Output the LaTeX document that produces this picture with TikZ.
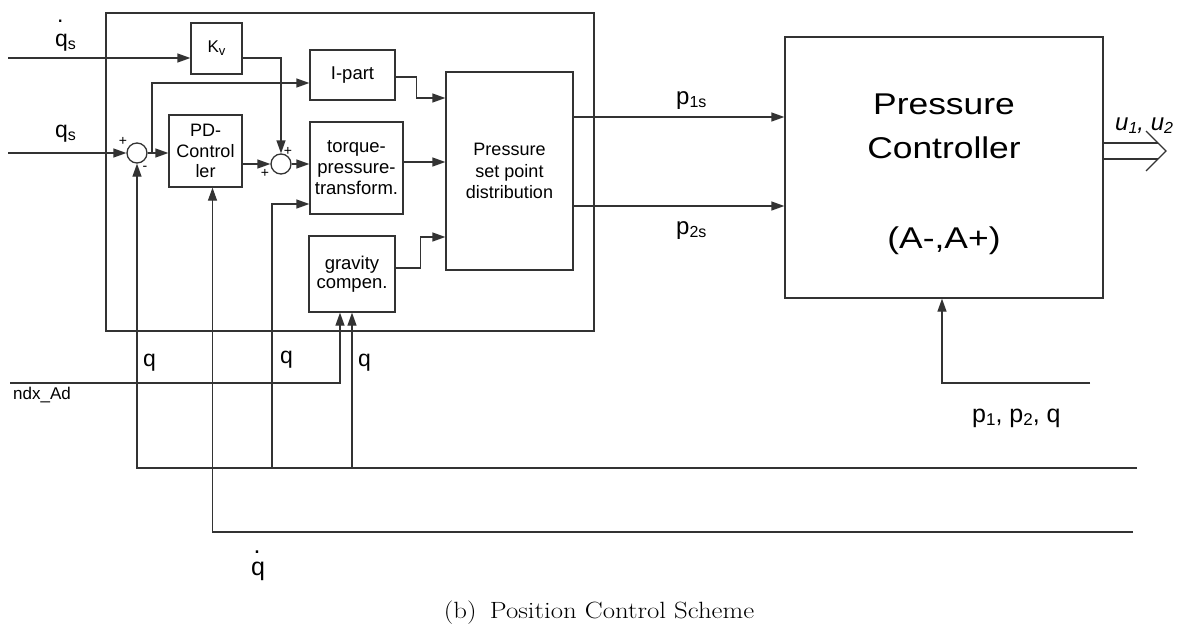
\documentclass[tikz,border=0pt]{standalone}
\usepackage{graphicx}
\usepackage{fontspec}
\setsansfont{Liberation Sans}
\newfontfamily\widesf[FakeStretch=1.18]{Liberation Sans}
\usetikzlibrary{arrows.meta}
\newcommand\fsz[2]{\fontsize{#1}{#2}\selectfont}
\newcommand\mysub[2][16]{{\fsz{#1}{#1}\raisebox{-3pt}{#2}}}
\begin{document}
\begin{tikzpicture}[x=1pt,y=-1pt,
  ln/.style={line width=1.3pt, draw=black!80},
  arr/.style={ln, -{Triangle[length=13pt,width=9pt]}},
  blk/.style={draw=black!80, line width=1.3pt, rectangle, inner sep=0pt, align=center, font=\sffamily\fsz{18.5}{21}},
  sumj/.style={draw=black!80, line width=1.3pt, circle, minimum size=20pt, inner sep=0pt},
  lbl/.style={font=\sffamily\fsz{23}{25}, inner sep=0pt, anchor=base west},
  sgn/.style={font=\sffamily\fsz{14}{14}, inner sep=0pt},
  pct/.style={font=\widesf\fsz{30}{30}, inner sep=0pt, anchor=base},
]
\useasboundingbox (0,0) rectangle (1181,627);

% blocks
\node[blk, minimum width=488pt, minimum height=318pt] (frame) at (350,172) {};
\node[blk, minimum width=51pt, minimum height=51pt, font=\sffamily\fsz{17}{17}] (Kv) at (216.5,48.5) {K\mysub[13]{v}};
\node[blk, minimum width=73pt, minimum height=72pt, font=\sffamily\fsz{18}{20.5}] (PD) at (205.5,151) {PD-\\Control\\ler};
\node[blk, minimum width=85pt, minimum height=50pt] (Ipart) at (352.5,75) {I-part};
\node[blk, minimum width=93pt, minimum height=92pt] (TP) at (356.5,168) {torque-\\pressure-\\transform.};
\node[blk, minimum width=86pt, minimum height=76pt, font=\sffamily\fsz{18.5}{19}] (GC) at (352,274) {gravity\\compen.};
\node[blk, minimum width=127pt, minimum height=198pt, font=\sffamily\fsz{18}{21.5}] (PSD) at (509.5,171) {Pressure\\set point\\distribution};
\node[blk, minimum width=318pt, minimum height=261pt] (PC) at (944,167.5) {};
\node[sumj] (S1) at (137,153) {};
\node[sumj] (S2) at (281,164) {};

% controller text
\node[pct] (pct1) at (944,114) {Pressure};
\node[pct] (pct2) at (944,158) {Controller};
\node[pct] (pct3) at (944,248) {(A-,A+)};

% inputs
\coordinate (inqd) at (8,58);
\coordinate (inq) at (8,153);
\draw[arr] (inqd) -- (inqd -| Kv.west);
\draw[arr] (Kv.east |- inqd) -| (S2.north);
\draw[arr] (inq) -- (S1.west);
\draw[arr] (S1.east) -- (PD.west |- S1);
\coordinate (br) at (152,153);
\draw[arr] (br) |- (Ipart.west |- 0,83);
\draw[arr] (Ipart.east |- 0,77) -- ++(21,0) |- (PSD.west |- 0,98);
\draw[arr] (PD.east |- S2) -- (S2.west);
\draw[arr] (S2.east) -- (TP.west |- S2);
\draw[arr] (TP.east |- 0,162) -- (PSD.west |- 0,162);
\draw[arr] (GC.east |- 0,268) -- ++(25,0) |- (PSD.west |- 0,237);
\draw[arr] (PSD.east |- 0,117) -- (PC.west |- 0,117);
\draw[arr] (PSD.east |- 0,206) -- (PC.west |- 0,206);

% feedback lines
\coordinate (qend) at (1137,468);
\coordinate (qdend) at (1133,532);
\coordinate (q2) at (272,468);
\coordinate (ndx) at (10,383);
\coordinate (pfb) at (1090,383);
\draw[arr] (qend) -- (S1.south |- qend) -- (S1.south);
\draw[arr] (q2) |- (TP.west |- 0,204);
\draw[arr] (GC.south |- qend) -- (GC.south);
\draw[arr] (ndx) -| ([xshift=-12pt]GC.south);
\draw[arr] (qdend) -- ([xshift=7pt]PD.south |- qdend) -- ([xshift=7pt]PD.south);
\draw[arr] (pfb) -| ([xshift=-2pt]PC.south);

% output double arrow
\coordinate (uo) at (1166,151);
\draw[ln] (PC.east |- 0,143) -- (1158,143);
\draw[ln] (PC.east |- 0,159) -- (1158,159);
\draw[ln] (uo) ++(-20,-20) -- (uo) -- ++(-20,20);

% labels
\node[lbl] (lqd) at (55,46) {\makebox[0pt][l]{\hspace{2pt}\raisebox{24pt}{.}}q\mysub{s}};
\node[lbl] (lq) at (55,137) {q\mysub{s}};
\node[lbl, font=\sffamily\fsz{24}{24}] (lp1) at (676,104.5) {p\mysub{1s}};
\node[lbl, font=\sffamily\fsz{24}{24}] (lp2) at (676,234.5) {p\mysub{2s}};
\node[lbl] (lqa) at (143,366) {q};
\node[lbl] (lqb) at (280,363) {q};
\node[lbl] (lqc) at (358,366) {q};
\node[lbl, font=\sffamily\fsz{17}{17}] (lndx) at (13,399) {ndx\_Ad};
\node[lbl, font=\sffamily\fsz{25}{25}] (lpfb) at (972,422) {p\mysub[17]{1}, p\mysub[17]{2}, q};
\node[lbl, font=\sffamily\itshape\fsz{24}{24}] (lu) at (1115,130) {u\mysub[16]{1}, u\mysub[16]{2}};
\node[lbl, font=\sffamily\fsz{25}{25}] (lqdot) at (251,575) {\makebox[0pt][l]{\hspace{2.5pt}\raisebox{22pt}{.}}q};
\node[sgn] (p1) at (123,141) {+};
\node[sgn] (m1) at (145,168) {-};
\node[sgn] (p2) at (288,151) {+};
\node[sgn] (p3) at (265,173) {+};

% caption
\node[font=\rmfamily\fsz{23.5}{23.5}, inner sep=0pt, anchor=base] (cap) at (599,618) {\scalebox{1.14}[1]{(b)\hspace{0.5em}Position Control Scheme}};
\end{tikzpicture}
\end{document}
